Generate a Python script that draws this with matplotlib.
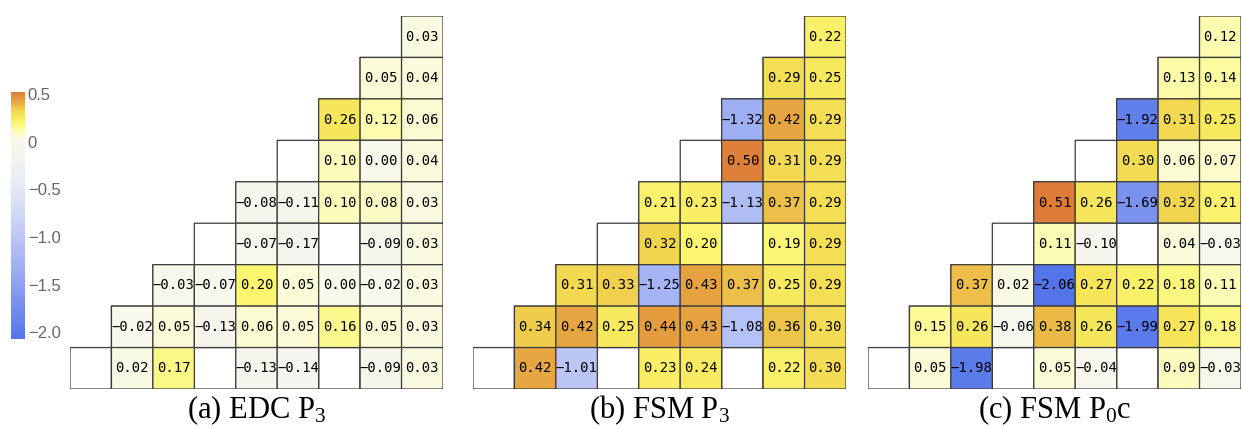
import numpy as np
import matplotlib
matplotlib.use("Agg")
import matplotlib.pyplot as plt
from matplotlib.colors import LinearSegmentedColormap, Normalize
from matplotlib.cm import ScalarMappable

plt.rcParams["mathtext.fontset"] = "custom"
plt.rcParams["mathtext.rm"] = "Liberation Serif"
plt.rcParams["mathtext.it"] = "Liberation Serif:italic"

N = 9  # rows/cols of the lower-right triangle; None = empty cell

edc_p3 = [
    [0.03],
    [0.05, 0.04],
    [0.26, 0.12, 0.06],
    [None, 0.10, 0.00, 0.04],
    [-0.08, -0.11, 0.10, 0.08, 0.03],
    [None, -0.07, -0.17, None, -0.09, 0.03],
    [-0.03, -0.07, 0.20, 0.05, 0.00, -0.02, 0.03],
    [-0.02, 0.05, -0.13, 0.06, 0.05, 0.16, 0.05, 0.03],
    [None, 0.02, 0.17, None, -0.13, -0.14, None, -0.09, 0.03],
]

fsm_p3 = [
    [0.22],
    [0.29, 0.25],
    [-1.32, 0.42, 0.29],
    [None, 0.50, 0.31, 0.29],
    [0.21, 0.23, -1.13, 0.37, 0.29],
    [None, 0.32, 0.20, None, 0.19, 0.29],
    [0.31, 0.33, -1.25, 0.43, 0.37, 0.25, 0.29],
    [0.34, 0.42, 0.25, 0.44, 0.43, -1.08, 0.36, 0.30],
    [None, 0.42, -1.01, None, 0.23, 0.24, None, 0.22, 0.30],
]

fsm_p0c = [
    [0.12],
    [0.13, 0.14],
    [-1.92, 0.31, 0.25],
    [None, 0.30, 0.06, 0.07],
    [0.51, 0.26, -1.69, 0.32, 0.21],
    [None, 0.11, -0.10, None, 0.04, -0.03],
    [0.37, 0.02, -2.06, 0.27, 0.22, 0.18, 0.11],
    [0.15, 0.26, -0.06, 0.38, 0.26, -1.99, 0.27, 0.18],
    [None, 0.05, -1.98, None, 0.05, -0.04, None, 0.09, -0.03],
]

panels = [edc_p3, fsm_p3, fsm_p0c]
captions = [r"(a) EDC P$_\mathrm{3}$", r"(b) FSM P$_\mathrm{3}$", r"(c) FSM P$_\mathrm{0}$c"]

cbar_ticks = [0.5, 0.0, -0.5, -1.0, -1.5, -2.0]
cbar_labels = ["0.5", "0", "\u22120.5", "\u22121.0", "\u22121.5", "\u22122.0"]

VMIN, VMAX = -2.07, 0.52

# diverging blue -> cream -> yellow -> orange scale
anchors = [
    (-2.07, "#5475EA"),
    (-1.5, "#8EA1F0"),
    (-1.0, "#BCC7F7"),
    (-0.5, "#E4E8F6"),
    (-0.15, "#F3F5EE"),
    (0.0, "#F8F9EC"),
    (0.05, "#FBFBD9"),
    (0.12, "#FDFCB2"),
    (0.20, "#FBF672"),
    (0.26, "#F7E85C"),
    (0.32, "#F2D850"),
    (0.37, "#EEC24A"),
    (0.42, "#E8AA42"),
    (0.52, "#DE7B38"),
]
cmap = LinearSegmentedColormap.from_list(
    "edc", [((v - VMIN) / (VMAX - VMIN), c) for v, c in anchors]
)
norm = Normalize(VMIN, VMAX)


def to_grid(rows):
    vals = np.full((N, N), np.nan)
    inside = np.zeros((N, N), dtype=bool)
    for r, row in enumerate(rows):
        start = N - len(row)
        for k, v in enumerate(row):
            inside[r, start + k] = True
            if v is not None:
                vals[r, start + k] = v
    return vals, inside


fig = plt.figure(figsize=(12.42, 4.29), dpi=100)
W, H = 1242, 429
lefts = [70, 473, 868]
top, size = 16, 373
edge = "#3c3c3c"

for left, rows, cap in zip(lefts, panels, captions):
    ax = fig.add_axes([left / W, (H - top - size) / H, size / W, size / H])
    vals, inside = to_grid(rows)
    frame = np.ma.masked_array(np.ones((N, N)), mask=~inside)
    ax.pcolor(frame, cmap=LinearSegmentedColormap.from_list("w", ["white", "white"]),
              edgecolors=edge, linewidth=0.9)
    data = np.ma.masked_invalid(vals)
    ax.pcolor(data, cmap=cmap, norm=norm, edgecolors=edge, linewidth=0.9)
    for r in range(N):
        for c in range(N):
            v = vals[r, c]
            if not np.isnan(v):
                txt = f"{v:.2f}".replace("-", "\u2212")
                ax.text(c + 0.5, r + 0.5, txt, ha="center", va="center",
                        fontsize=10, family="DejaVu Sans Mono", color="black")
    ax.set_xlim(0, N)
    ax.set_ylim(N, 0)
    ax.set_axis_off()
    fig.text((left + size / 2) / W, (H - 410) / H, cap, ha="center", va="center",
             fontsize=22, family="Liberation Serif")

cax = fig.add_axes([11 / W, (H - 339) / H, 14 / W, 247 / H])
sm = ScalarMappable(norm=norm, cmap=cmap)
cb = fig.colorbar(sm, cax=cax)
cb.outline.set_visible(False)
cb.set_ticks(cbar_ticks)
cb.set_ticklabels(cbar_labels)
cax.tick_params(length=0, pad=2, labelsize=12, labelcolor="#666666")
for t in cax.get_yticklabels():
    t.set_family("Liberation Sans")

fig.savefig("out.png", dpi=100)
